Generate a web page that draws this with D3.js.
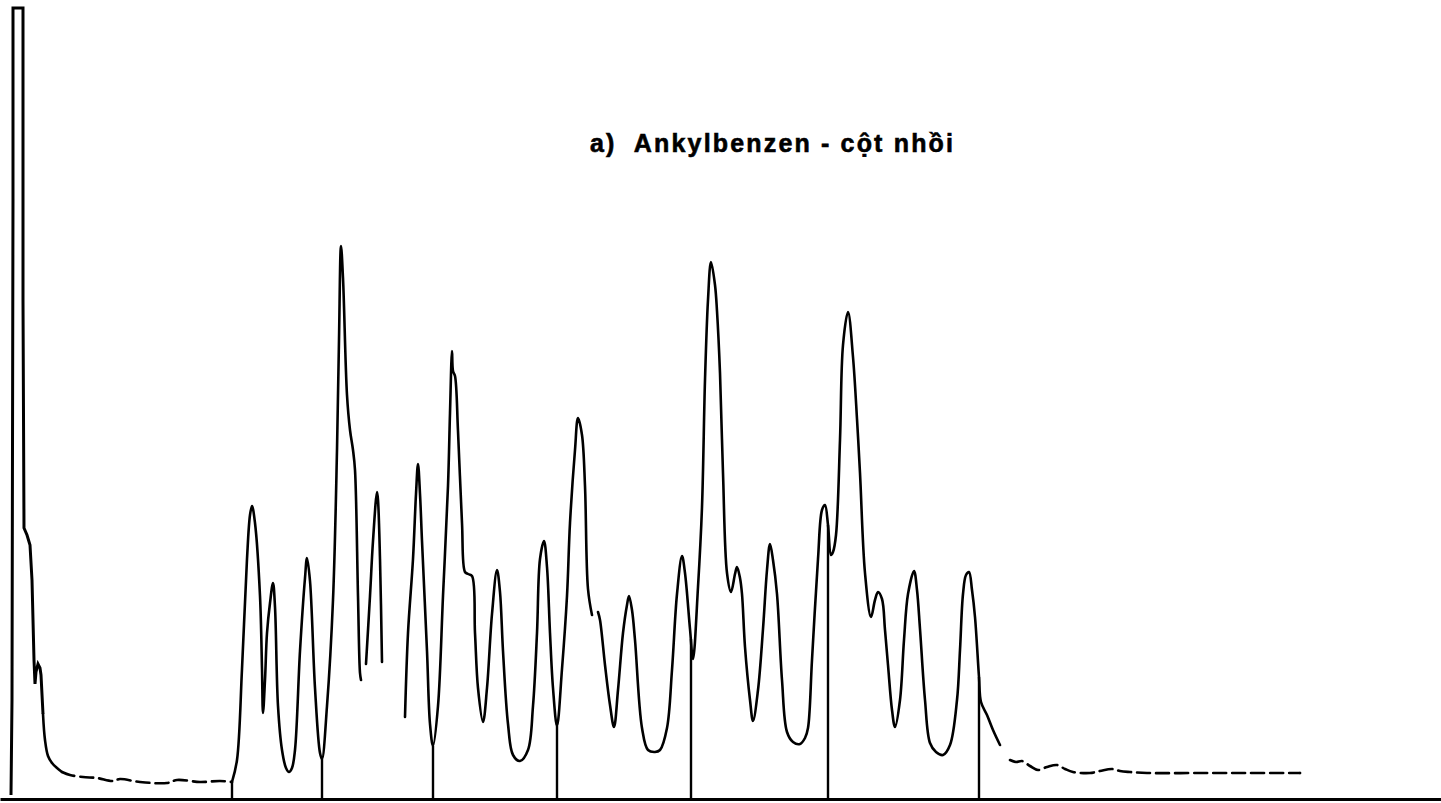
<!DOCTYPE html>
<html>
<head>
<meta charset="utf-8">
<script src="https://cdn.jsdelivr.net/npm/d3@7"></script>
<style>
  html, body { margin: 0; padding: 0; background: #fff; }
  svg { display: block; }
</style>
</head>
<body>
<svg id="chart" width="1441" height="803"></svg>
<script>
// ---- Data (time in arbitrary units, detector signal in arbitrary units) ----
const title = "a)  Ankylbenzen - cột nhồi";

// trace: retention time
const traceTime = [
  11, 12, 13, 13, 23, 23, 24, 27, 30, 32, 34, 35, 36, 38, 40, 41, 43, 45, 48, 52, 57, 62, 70, 83,
  97, 113, 120, 140, 167, 177, 200, 220, 232,
  237, 242, 247, 250, 252, 255, 260, 262, 263, 265, 267, 270, 273, 275, 278, 282, 286, 289, 292, 295,
  300, 305, 307, 310, 315, 320, 322, 327, 333, 337, 339, 341, 343, 347, 350, 353, 355, 358, 360, 361,
  null,
  366, 370, 373, 377, 378, 380, 382,
  null,
  405, 408, 413, 416, 418, 420, 422, 427, 430, 433, 438, 443, 448, 450, 452, 453, 455, 458, 462, 465,
  468, 472, 475, 478, 483, 487, 492, 497, 500, 503, 508, 513, 520, 528, 533, 537, 540, 544, 547, 550,
  553, 557, 562, 567, 570, 575, 578, 582, 585, 588, 592,
  null,
  598, 600, 605, 610, 614, 618, 623, 627, 629, 632, 635, 642, 648, 655, 660, 667, 672, 677, 682, 685,
  690, 693, 698, 702, 705, 708, 711, 715, 717, 720, 723, 727, 731, 735, 737, 740, 742, 745, 750, 753,
  758, 763, 767, 770, 773, 777, 782, 787, 793, 800, 805, 808, 812, 818, 822, 825, 828, 831, 833, 836,
  840, 843, 848, 853, 857, 860, 865, 871, 875, 878, 882, 885, 888, 892, 895, 900, 904, 908, 914, 917,
  920, 925, 930, 936, 943, 950, 957, 960, 963, 966, 969, 972, 975, 979, 981, 987, 993, 1000, 1010,
  1016, 1022, 1030, 1038, 1047, 1057, 1065, 1073, 1090, 1100, 1112, 1120, 1130, 1147, 1200, 1250, 1300
];
// trace: detector signal (height above the time axis)
const traceSignal = [
  4, 99, 600, 791, 791, 499, 271, 264, 254, 219, 139, 115, 127, 135, 131, 124, 85, 59, 43, 36, 31, 27, 24, 22,
  21, 18, 20, 17, 16, 19, 17, 18, 17,
  39, 130, 240, 284, 293, 276, 203, 130, 86, 119, 166, 196, 216, 192, 93, 49, 31, 27, 31, 49,
  148, 221, 241, 218, 111, 46, 40, 93, 199, 349, 459, 553, 521, 404, 369, 349, 329, 203, 126, 119,
  null,
  135, 203, 258, 307, 299, 240, 137,
  null,
  82, 166, 240, 305, 335, 305, 258, 148, 75, 53, 93, 203, 313, 386, 448, 428, 423, 368, 276, 227,
  225, 223, 166, 111, 77, 111, 185, 229, 207, 148, 75, 44, 38, 49, 93, 166, 240, 258, 232, 166,
  111, 73, 130, 203, 276, 349, 381, 364, 313, 210, 184,
  null,
  187, 179, 134, 94, 72, 109, 166, 194, 203, 189, 159, 71, 49, 47, 49, 71, 129, 205, 243, 226,
  170, 140, 212, 292, 419, 499, 537, 514, 488, 426, 326, 226, 207, 225, 232, 221, 205, 152, 99, 78,
  109, 170, 229, 255, 239, 205, 119, 67, 57, 55, 61, 71, 139, 240, 289, 294, 274, 244, 247, 264,
  359, 454, 487, 442, 380, 326, 226, 182, 199, 207, 200, 169, 134, 89, 72, 99, 159, 205, 228, 209,
  170, 99, 56, 47, 44, 54, 99, 149, 205, 224, 227, 209, 182, 122, 97, 84, 69, 54, 39,
  37, 38, 33, 29, 32, 34, 30, 27, 26, 28, 30, 28, 27, 26, 26, 26, 26
];

// integration marks dropped from the time axis to the trace
const markerTime = [232, 322, 433, 557, 691, 828, 979];

// portions of the trace where the faint pen trace prints as broken dashes
const dashedRanges = [[62, 232], [1005, 1300]];
// solvent front: pen moved in straight strokes (square-topped, off-scale peak)
const penStrokeRange = [11, 43];

// ---- Chart ----
const W = 1441, H = 803;
const svg = d3.select("#chart");

const x = d3.scaleLinear().domain([0, 1441]).range([0, W]);
const y = d3.scaleLinear().domain([0, 793]).range([799, 6]);

const pts = traceTime.map((t, i) => ({ t, s: traceSignal[i] }));
const NONE = { t: null, s: null };

// interpolate signal at a time (for marker tops)
function signalAt(t) {
  const valid = pts.filter(p => p.t != null && p.s != null);
  for (let i = 1; i < valid.length; i++) {
    const a = valid[i - 1], b = valid[i];
    if (t >= a.t && t <= b.t && b.t > a.t) {
      const f = (t - a.t) / (b.t - a.t);
      return a.s + f * (b.s - a.s);
    }
  }
  return 0;
}

const inDashed = t => dashedRanges.some(r => t > r[0] && t < r[1]);
const touchesDashed = t => dashedRanges.some(r => t >= r[0] && t <= r[1]);
const inPen = t => t >= penStrokeRange[0] && t <= penStrokeRange[1];

const smoothLine = d3.line()
  .defined(d => d.t != null && d.s != null)
  .x(d => x(d.t)).y(d => y(d.s))
  .curve(d3.curveCatmullRom.alpha(0.5));
const straightLine = d3.line()
  .defined(d => d.t != null && d.s != null)
  .x(d => x(d.t)).y(d => y(d.s))
  .curve(d3.curveLinear);

const penPts = pts.map(p => (p.t != null && inPen(p.t)) ? p : NONE);
const solidPts = pts.map(p => (p.t == null || inDashed(p.t) || (inPen(p.t) && p.t < penStrokeRange[1])) ? NONE : p);
const dashedPts = pts.map(p => (p.t != null && touchesDashed(p.t)) ? p : NONE);

const g = svg.append("g");

// time axis (no ticks, as in the recorder chart)
const axis = d3.axisBottom(x).tickValues([]).tickSizeOuter(0);
const axG = g.append("g").attr("transform", `translate(0,${y(0)})`).call(axis);
axG.select(".domain").attr("stroke", "#000").attr("stroke-width", 3);

// integration markers
g.append("g").selectAll("line").data(markerTime).join("line")
  .attr("x1", d => x(d)).attr("x2", d => x(d))
  .attr("y1", y(0)).attr("y2", d => y(signalAt(d)))
  .attr("stroke", "#000").attr("stroke-width", 2.4);

const strokeW = 2.6;
g.append("path").datum(penPts)
  .attr("d", straightLine)
  .attr("fill", "none").attr("stroke", "#000")
  .attr("stroke-width", 3).attr("stroke-linejoin", "miter").attr("stroke-linecap", "butt");

g.append("path").datum(solidPts)
  .attr("d", smoothLine)
  .attr("fill", "none").attr("stroke", "#000")
  .attr("stroke-width", strokeW).attr("stroke-linejoin", "round").attr("stroke-linecap", "round");

g.append("path").datum(dashedPts)
  .attr("d", smoothLine)
  .attr("fill", "none").attr("stroke", "#000")
  .attr("stroke-width", strokeW).attr("stroke-dasharray", "13,6")
  .attr("stroke-linecap", "round");

// title
svg.append("text")
  .attr("x", 590).attr("y", 152)
  .attr("font-family", "Liberation Sans, Arial, Helvetica, sans-serif")
  .attr("font-weight", "bold")
  .attr("font-size", 25)
  .attr("fill", "#000")
  .attr("stroke", "#000").attr("stroke-width", 0.6)
  .attr("xml:space", "preserve")
  .style("white-space", "pre")
  .attr("textLength", 363)
  .attr("lengthAdjust", "spacing")
  .text(title);
</script>
</body>
</html>
